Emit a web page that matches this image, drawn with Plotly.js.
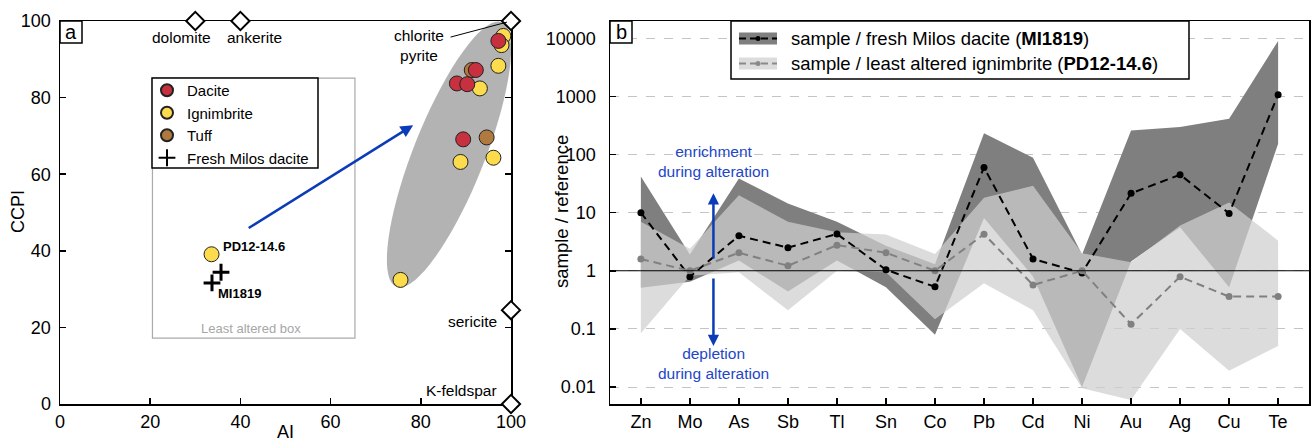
<!DOCTYPE html>
<html><head><meta charset="utf-8">
<script src="https://cdn.plot.ly/plotly-3.0.1.min.js"></script>
<style>html,body{margin:0;padding:0;background:#fff}#chart{width:1312px;height:442px}</style>
</head><body><div id="chart"></div>
<script>
// ---------- Panel a: AI vs CCPI ----------
const daciteAI   = [97.2, 92.2, 88.0, 90.3, 89.4];
const daciteCCPI = [94.8, 87.2, 83.7, 83.5, 69.1];
const ignimAI    = [98.3, 97.9, 97.2, 93.1, 88.8, 96.1, 75.5, 33.6];
const ignimCCPI  = [96.1, 93.7, 88.3, 82.4, 63.2, 64.3, 32.4, 39.1];
const tuffAI     = [91.3, 94.6];
const tuffCCPI   = [87.2, 69.6];
const freshAI    = [35.7, 33.7];
const freshCCPI  = [34.4, 31.6];
const mineralNames = ['dolomite', 'ankerite', 'chlorite/pyrite', 'sericite', 'K-feldspar'];
const mineralAI    = [30, 40, 100, 100, 100];
const mineralCCPI  = [100, 100, 100, 24.5, 0];

// ---------- Panel b: normalised element ratios ----------
const elements   = ['Zn','Mo','As','Sb','Tl','Sn','Co','Pb','Cd','Ni','Au','Ag','Cu','Te'];
const freshRatio = [10, 0.79, 4.0, 2.5, 4.3, 1.04, 0.53, 60, 1.6, 0.92, 21.5, 45, 9.7, 1070];
const freshMax   = [42, 1.9, 38.7, 14.4, 7.0, 2.7, 1.3, 232, 88, 1.9, 259, 296, 412, 9000];
const freshMin   = [0.51, 0.65, 1.5, 0.44, 1.5, 0.52, 0.079, 8.1, 0.8, 0.01, 1.45, 5.6, 0.52, 153];
const ignRatio   = [1.59, 1.0, 2.04, 1.22, 2.76, 2.04, 1.0, 4.27, 0.57, 1.0, 0.12, 0.79, 0.36, 0.36];
const ignMax     = [6.95, 2.4, 20, 7.0, 4.6, 4.2, 1.94, 18, 29, 2.0, 1.4, 6.0, 15, 3.3];
const ignMin     = [0.084, 0.82, 0.94, 0.21, 1.0, 0.94, 0.147, 0.61, 0.21, 0.0095, 0.006, 0.10, 0.019, 0.051];
const yTickVals  = [0.01, 0.1, 1, 10, 100, 1000, 10000];
const yTickText  = ['0.01', '0.1', '1', '10', '100', '1000', '10000'];

const FONT = 'Liberation Sans, Arial, Helvetica, sans-serif';
const W = 1312, H = 442, ML = 60, MR = 3, MT = 21, MB = 38;
const PW = W - ML - MR, PH = H - MT - MB;
const px2x = p => (p - ML) / PW;
const px2y = p => (H - MB - p) / PH;

const RED = '#c6303f', YEL = '#fcdb4c', BRN = '#b07a3e';
const DARK = '#7f7f7f', LIGHT = 'rgba(207,207,207,0.73)', LIGHTSW = '#dcdcdc';
const BLUE_T = '#2246c8', BLUE_A = '#0b3cb8';

// ellipse (alteration field) built in pixel-aspect units, mapped to data units
const ell = {cx: 86.25, cy: 65.15, a: 142.4, b: 35.5, theta: 68.3 * Math.PI / 180, sx: 4.51, sy: 3.83};
let ellPath = '';
for (let i = 0; i <= 72; i++) {
  const t = i / 72 * 2 * Math.PI;
  const dx = ell.a * Math.cos(t) * Math.cos(ell.theta) - ell.b * Math.sin(t) * Math.sin(ell.theta);
  const dy = ell.a * Math.cos(t) * Math.sin(ell.theta) + ell.b * Math.sin(t) * Math.cos(ell.theta);
  ellPath += (i === 0 ? 'M' : 'L') + (ell.cx + dx / ell.sx).toFixed(3) + ',' + (ell.cy + dy / ell.sy).toFixed(3);
}
ellPath += 'Z';

function band(upper, lower, color) {
  return {
    x: elements.concat(elements.slice().reverse()),
    y: upper.concat(lower.slice().reverse()),
    type: 'scatter', mode: 'lines', fill: 'toself', fillcolor: color,
    line: {width: 0}, xaxis: 'x2', yaxis: 'y2', showlegend: false, hoverinfo: 'skip'
  };
}

const traces = [
  {x: tuffAI, y: tuffCCPI, name: 'Tuff', type: 'scatter', mode: 'markers', legendrank: 3,
   marker: {size: 15, color: BRN, line: {color: '#222', width: 1}}, xaxis: 'x', yaxis: 'y'},
  {x: ignimAI, y: ignimCCPI, name: 'Ignimbrite', type: 'scatter', mode: 'markers', legendrank: 2,
   marker: {size: 15, color: YEL, line: {color: '#222', width: 1}}, xaxis: 'x', yaxis: 'y'},
  {x: daciteAI, y: daciteCCPI, name: 'Dacite', type: 'scatter', mode: 'markers', legendrank: 1,
   marker: {size: 15, color: RED, line: {color: '#222', width: 1}}, xaxis: 'x', yaxis: 'y'},
  {x: freshAI, y: freshCCPI, name: 'Fresh Milos dacite', type: 'scatter', mode: 'markers', legendrank: 4,
   marker: {size: 12, symbol: 'cross-thin', color: '#000', line: {color: '#000', width: 3}}, xaxis: 'x', yaxis: 'y'},
  {x: mineralAI, y: mineralCCPI, text: mineralNames, type: 'scatter', mode: 'markers', showlegend: false,
   cliponaxis: false, marker: {size: 14, symbol: 'diamond', color: '#fff', line: {color: '#000', width: 2}},
   xaxis: 'x', yaxis: 'y'},
  band(freshMax, freshMin, DARK),
  band(ignMax, ignMin, LIGHT),
  {x: elements, y: freshRatio, type: 'scatter', mode: 'lines+markers', showlegend: false,
   line: {color: '#000', width: 2, dash: '8px,5px'}, marker: {size: 7, color: '#000'}, xaxis: 'x2', yaxis: 'y2'},
  {x: elements, y: ignRatio, type: 'scatter', mode: 'lines+markers', showlegend: false,
   line: {color: '#808080', width: 2, dash: '8px,5px'}, marker: {size: 7, color: '#808080'}, xaxis: 'x2', yaxis: 'y2'}
];

const axBase = {
  showline: true, linecolor: '#000', linewidth: 1.5, ticks: 'inside', ticklen: 6, tickwidth: 1.5,
  tickcolor: '#000', showgrid: false, zeroline: false, tickfont: {size: 18, family: FONT, color: '#000'}
};

const P = (x0, y0, x1, y1) => ({xref: 'paper', yref: 'paper', x0: px2x(x0), x1: px2x(x1), y0: px2y(y1), y1: px2y(y0)});

const shapes = [
  {type: 'path', path: ellPath, xref: 'x', yref: 'y', fillcolor: '#b3b3b3', line: {width: 0}, layer: 'below'},
  {type: 'rect', xref: 'x', yref: 'y', x0: 20.5, x1: 65.4, y0: 17.2, y1: 85.1, line: {color: '#aaaaaa', width: 1.2}, layer: 'below'},
  {type: 'line', xref: 'x', yref: 'y', x0: 86.6, y0: 95.8, x1: 99.1, y1: 99.7, line: {color: '#000', width: 1}},
  // panel a legend frame
  Object.assign({type: 'rect', line: {color: '#000', width: 1.5}, fillcolor: '#fff', layer: 'above'}, P(152, 78, 318, 168)),
  // reference line at ratio 1
  {type: 'line', xref: 'x2 domain', yref: 'y2', x0: 0, x1: 1, y0: 1, y1: 1, line: {color: '#000', width: 1.2}, layer: 'above'},
  // panel label boxes
  Object.assign({type: 'rect', line: {color: '#000', width: 1.5}, fillcolor: '#fff'}, P(60, 21, 82, 43)),
  Object.assign({type: 'rect', line: {color: '#000', width: 1.5}, fillcolor: '#fff'}, P(610, 21, 632, 43)),
  // panel b legend
  Object.assign({type: 'rect', line: {color: '#000', width: 1.5}, fillcolor: '#fff'}, P(731, 21, 1189, 79)),
  Object.assign({type: 'rect', line: {width: 0}, fillcolor: DARK}, P(739, 32.5, 777, 44.5)),
  Object.assign({type: 'rect', line: {width: 0}, fillcolor: LIGHTSW}, P(739, 57.5, 777, 69.5)),
  Object.assign({type: 'line', line: {color: '#000', width: 2, dash: '7px,4px'}}, P(739, 38.5, 777, 38.5)),
  Object.assign({type: 'line', line: {color: '#8a8a8a', width: 2, dash: '7px,4px'}}, P(739, 63.5, 777, 63.5)),
  Object.assign({type: 'circle', line: {width: 0}, fillcolor: '#000'}, P(755.5, 36, 760.5, 41)),
  Object.assign({type: 'circle', line: {width: 0}, fillcolor: '#8a8a8a'}, P(755.5, 61, 760.5, 66))
];

const txt = (s, c) => ({size: s, family: FONT, color: c || '#000'});
const note = (xref, yref, x, y, text, font, extra) => Object.assign(
  {xref: xref, yref: yref, x: x, y: y, text: text, showarrow: false, font: font, xanchor: 'center', yanchor: 'middle'}, extra || {});
const annotations = [
  note('x', 'y', 27.0, 95.8, 'dolomite', txt(15.5)),
  note('x', 'y', 43.2, 95.8, 'ankerite', txt(15.5)),
  note('x', 'y', 79.6, 93.7, 'chlorite<br>pyrite', txt(15.5)),
  note('x', 'y', 97.4, 21.5, 'sericite', txt(15.5), {xanchor: 'right'}),
  note('x', 'y', 97.3, 3.6, 'K-feldspar', txt(15.5), {xanchor: 'right'}),
  note('x', 'y', 35.7, 41.0, '<b>PD12-14.6</b>', txt(13), {xanchor: 'left'}),
  note('x', 'y', 34.6, 28.9, '<b>MI1819</b>', txt(13), {xanchor: 'left'}),
  note('x', 'y', 42.4, 19.6, 'Least altered box', txt(13, '#a6a6a6')),
  {xref: 'x', yref: 'y', x: 78.3, y: 72.8, axref: 'x', ayref: 'y', ax: 41.5, ay: 45.7, text: '', showarrow: true,
   arrowhead: 2, arrowsize: 1, arrowwidth: 2.5, arrowcolor: BLUE_A},
  note('paper', 'paper', px2x(71), px2y(32), 'a', txt(20)),
  note('paper', 'paper', px2x(621), px2y(32), 'b', txt(20)),
  note('paper', 'paper', px2x(18), px2y(212), 'CCPI', txt(18), {textangle: -90}),
  note('paper', 'paper', px2x(561), px2y(212), 'sample / reference', txt(18.5), {textangle: -90}),
  note('paper', 'paper', px2x(789), px2y(38.5), 'sample / fresh Milos dacite (<b>MI1819</b>)', txt(18.5), {xanchor: 'left'}),
  note('paper', 'paper', px2x(789), px2y(63.5), 'sample / least altered ignimbrite (<b>PD12-14.6</b>)', txt(18.5), {xanchor: 'left'}),
  note('x2', 'y2', 1.48, 1.885, 'enrichment<br>during alteration', txt(15.5, BLUE_T)),
  note('x2', 'y2', 1.48, -1.603, 'depletion<br>during alteration', txt(15.5, BLUE_T)),
  {xref: 'x2', yref: 'y2', x: 1.48, y: 1.335, axref: 'x2', ayref: 'y2', ax: 1.48, ay: 0.184, text: '', showarrow: true,
   arrowhead: 2, arrowsize: 0.9, arrowwidth: 2.5, arrowcolor: BLUE_A},
  {xref: 'x2', yref: 'y2', x: 1.48, y: -1.294, axref: 'x2', ayref: 'y2', ax: 1.48, ay: -0.108, text: '', showarrow: true,
   arrowhead: 2, arrowsize: 0.9, arrowwidth: 2.5, arrowcolor: BLUE_A}
];

const layout = {
  width: W, height: H, margin: {l: ML, r: MR, t: MT, b: MB},
  paper_bgcolor: '#fff', plot_bgcolor: '#fff', font: {family: FONT, color: '#000'},
  showlegend: true,
  legend: {x: px2x(147), y: px2y(74), xanchor: 'left', yanchor: 'top', bgcolor: 'rgba(0,0,0,0)',
           borderwidth: 0, font: {size: 15, family: FONT}, itemsizing: 'constant', tracegroupgap: 0},
  xaxis: Object.assign({}, axBase, {domain: [0, px2x(511)], range: [0, 100], dtick: 20, mirror: true, anchor: 'y',
          layer: 'below traces', ticklabelstandoff: 1,
          title: {text: 'AI', font: {size: 18, family: FONT}, standoff: 2}}),
  yaxis: Object.assign({}, axBase, {domain: [0, 1], range: [0, 100], dtick: 20, mirror: 'ticks', anchor: 'x',
          layer: 'below traces', ticklabelstandoff: 4}),
  xaxis2: Object.assign({}, axBase, {domain: [px2x(610), 1], type: 'category', categoryorder: 'array',
          categoryarray: elements, range: [-0.63, 13.63], mirror: true, anchor: 'y2', ticklabelstandoff: 1}),
  yaxis2: Object.assign({}, axBase, {domain: [0, 1], type: 'log', range: [-2.292, 4.297], anchor: 'x2',
          tickvals: yTickVals, ticktext: yTickText, mirror: true, showgrid: true, gridcolor: '#c4c4c4',
          griddash: 'dash', gridwidth: 1, ticklabelstandoff: 9}),
  shapes: shapes, annotations: annotations
};

Plotly.newPlot('chart', traces, layout, {staticPlot: true, displayModeBar: false});
</script></body></html>
